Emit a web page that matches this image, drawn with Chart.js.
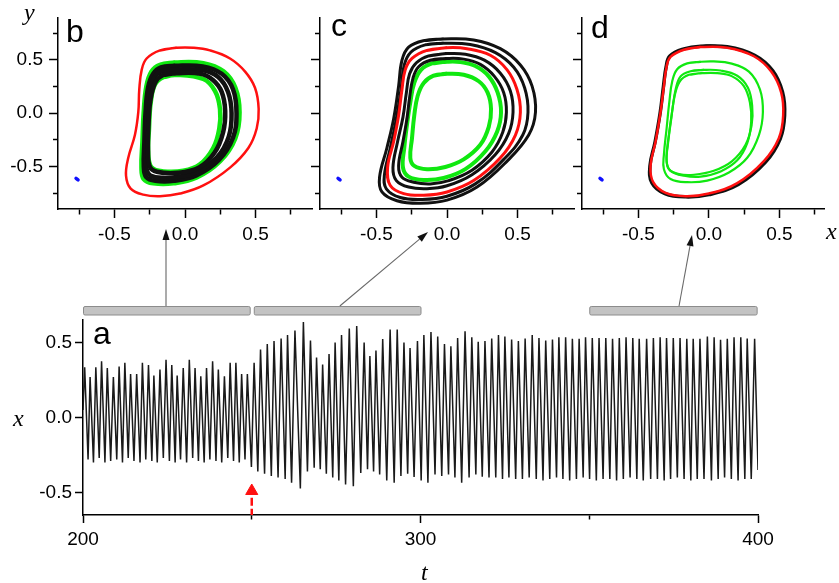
<!DOCTYPE html>
<html>
<head>
<meta charset="utf-8">
<script src="https://cdn.jsdelivr.net/npm/chart.js@4"></script>
<style>
  body { margin: 0; background: #fff; width: 839px; height: 583px; overflow: hidden; position: relative; }
  canvas { position: absolute; }
  .lab { position: absolute; line-height: 1; color: #000; white-space: nowrap; }
  .letter { font: 32px "Liberation Sans", Arial, sans-serif; }
  .var { font: italic 24px "Liberation Serif", "Times New Roman", serif; }
</style>
</head>
<body>
<canvas id="chartA" width="839" height="363" style="left:0;top:220px"></canvas>
<canvas id="chartB" width="316" height="250" style="left:0;top:0"></canvas>
<canvas id="chartC" width="298" height="250" style="left:280px;top:0"></canvas>
<canvas id="chartD" width="297" height="250" style="left:542px;top:0"></canvas>

<div class="lab letter" style="left:66px;top:13px">b</div>
<div class="lab letter" style="left:331px;top:7px">c</div>
<div class="lab letter" style="left:591px;top:9px">d</div>
<div class="lab letter" style="left:93px;top:315px">a</div>
<div class="lab var" style="left:24px;top:-1px">y</div>
<div class="lab var" style="left:826px;top:218px">x</div>
<div class="lab var" style="left:13px;top:405px">x</div>
<div class="lab var" style="left:421px;top:559px">t</div>

<script>
// --- panel a : time series x(t), peaks and troughs ---
const tPeak = [200.5, 202.1, 203.8, 205.5, 207.2, 209.0, 210.7, 212.4, 214.1, 215.9, 217.6, 219.4, 221.0, 222.8, 224.6, 226.3, 227.9, 229.7, 231.5, 233.2,
  234.9, 236.6, 238.4, 240.1, 241.9, 243.6, 245.3, 247.0, 248.7, 250.7,
  252.6, 254.6, 256.6, 258.7, 260.6, 262.8, 265.3, 267.4, 269.2, 271.0, 272.9, 274.7, 276.6, 278.9, 281.1, 283.3, 285.0, 286.8, 288.8, 291.0,
  293.1, 295.1, 296.9, 299.1, 301.0,
  303.1, 305.1, 307.1, 309.0, 311.0, 313.2, 315.2, 317.1, 319.1, 321.1, 323.1, 325.0, 327.0, 329.0, 331.0, 333.1, 335.1, 337.1, 339.1, 341.0,
  343.0, 345.0, 347.0, 348.9, 350.9, 352.9, 354.9, 356.9, 358.9, 360.9, 362.9, 364.8, 367.0, 369.0, 371.0, 372.9, 374.9, 376.9, 378.9, 380.8,
  382.8, 385.0, 387.0, 388.9, 390.9, 392.9, 394.9, 396.8, 399.0];
const xPeak = [0.335, 0.27, 0.335, 0.375, 0.33, 0.27, 0.34, 0.365, 0.29, 0.29, 0.365, 0.35, 0.28, 0.32, 0.385, 0.35, 0.28, 0.33, 0.385, 0.33,
  0.275, 0.33, 0.375, 0.32, 0.275, 0.365, 0.365, 0.29, 0.29, 0.365,
  0.453, 0.49, 0.51, 0.527, 0.55, 0.58, 0.636, 0.513, 0.40, 0.353, 0.424, 0.50, 0.55, 0.593, 0.61, 0.50, 0.41, 0.447, 0.524, 0.587,
  0.587, 0.50, 0.464, 0.51, 0.55,
  0.57, 0.54, 0.49, 0.475, 0.53, 0.575, 0.535, 0.505, 0.51, 0.527, 0.55, 0.54, 0.52, 0.51, 0.527, 0.55, 0.53, 0.513, 0.52, 0.535,
  0.535, 0.525, 0.525, 0.535, 0.53, 0.53, 0.53, 0.525, 0.53, 0.535, 0.53, 0.525, 0.525, 0.53, 0.535, 0.53, 0.53, 0.53, 0.525, 0.525,
  0.525, 0.54, 0.535, 0.518, 0.525, 0.535, 0.535, 0.527, 0.525];
const tTrough = [201.5, 203.1, 204.8, 206.5, 208.2, 210.0, 211.7, 213.4, 215.1, 216.9, 218.6, 220.4, 222.0, 223.8, 225.6, 227.3, 228.9, 230.7, 232.5, 234.2,
  235.9, 237.6, 239.4, 241.1, 242.9, 244.6, 246.3, 248.0, 249.9, 251.8,
  253.8, 255.8, 257.8, 259.9, 261.8, 264.4, 266.5, 268.5, 270.3, 272.1, 274.0, 275.8, 277.8, 280.1, 282.3, 284.3, 286.1, 287.9, 290.0, 292.2,
  294.2, 296.2, 298.1, 300.2,
  302.2, 304.3, 306.3, 308.3, 310.2, 312.2, 314.4, 316.4, 318.3, 320.3, 322.3, 324.3, 326.2, 328.2, 330.2, 332.2, 334.3, 336.3, 338.3, 340.3,
  342.2, 344.2, 346.2, 348.2, 350.1, 352.1, 354.1, 356.1, 358.1, 360.1, 362.1, 364.1, 366.0, 368.2, 370.2, 372.2, 374.1, 376.1, 378.1, 380.1,
  382.0, 384.0, 386.2, 388.2, 390.1, 392.1, 394.1, 396.1, 398.0, 400.0];
const xTrough = [-0.28, -0.30, -0.27, -0.30, -0.29, -0.28, -0.30, -0.27, -0.29, -0.30, -0.28, -0.29, -0.30, -0.27, -0.29, -0.30, -0.28, -0.30, -0.27, -0.29,
  -0.30, -0.28, -0.29, -0.30, -0.27, -0.29, -0.30, -0.28, -0.33, -0.36,
  -0.375, -0.39, -0.40, -0.41, -0.435, -0.473, -0.36, -0.335, -0.345, -0.375, -0.40, -0.42, -0.447, -0.458, -0.37, -0.345, -0.36, -0.38, -0.42, -0.435,
  -0.39, -0.375, -0.397, -0.42,
  -0.435, -0.38, -0.39, -0.38, -0.40, -0.435, -0.40, -0.38, -0.395, -0.40, -0.40, -0.41, -0.40, -0.41, -0.41, -0.40, -0.41, -0.42, -0.41, -0.40,
  -0.41, -0.42, -0.41, -0.40, -0.41, -0.42, -0.41, -0.41, -0.42, -0.41, -0.40, -0.41, -0.42, -0.41, -0.41, -0.42, -0.41, -0.40, -0.41, -0.42,
  -0.41, -0.41, -0.42, -0.41, -0.40, -0.41, -0.42, -0.41, -0.41, -0.35];
const xStart = 0.05;
const switchTime = 250;
const windows = [[200, 249.4], [250.6, 300], [350, 399.6]];   // gray bars above panel a
const timeTicks = ['200', '300', '400'];
const phaseTicks = ['-0.5', '0.0', '0.5'];

// --- panels b, c, d : phase portraits (x, y) ---
const fixedPoint = [[-0.772, -0.612], [-0.758, -0.626]];

const bRed = [[-0.059, 0.615], [-0.177, 0.59], [-0.272, 0.514], [-0.307, 0.407], [-0.324, 0.223], [-0.331, 0.009], [-0.355, -0.205], [-0.402, -0.419],
  [-0.418, -0.587], [-0.385, -0.709], [-0.296, -0.765], [-0.177, -0.78], [-0.035, -0.755], [0.13, -0.679], [0.319, -0.511], [0.449, -0.327],
  [0.508, -0.144], [0.522, 0.04], [0.496, 0.239], [0.426, 0.391], [0.319, 0.514], [0.177, 0.59], [0.059, 0.615]];
const bGreen1 = [[-0.071, 0.474], [-0.177, 0.453], [-0.236, 0.391], [-0.272, 0.254], [-0.291, 0.009], [-0.30, -0.266], [-0.307, -0.511], [-0.291, -0.618],
  [-0.225, -0.657], [-0.083, -0.657], [0.083, -0.602], [0.248, -0.45], [0.355, -0.235], [0.385, 0.009], [0.355, 0.239], [0.272, 0.391], [0.13, 0.468]];
const bGreen2 = [[-0.059, 0.361], [-0.154, 0.339], [-0.213, 0.269], [-0.243, 0.10], [-0.255, -0.144], [-0.26, -0.388], [-0.236, -0.511], [-0.154, -0.547],
  [-0.012, -0.541], [0.106, -0.48], [0.20, -0.327], [0.243, -0.144], [0.248, 0.04], [0.213, 0.208], [0.13, 0.321]];
const bBlack1 = [[-0.07, 0.445], [-0.17, 0.43], [-0.225, 0.37], [-0.262, 0.24], [-0.28, 0.0], [-0.288, -0.27], [-0.292, -0.50], [-0.275, -0.60],
  [-0.21, -0.635], [-0.08, -0.635], [0.08, -0.585], [0.24, -0.44], [0.34, -0.23], [0.365, 0.0], [0.34, 0.225], [0.26, 0.37], [0.125, 0.44]];
const bBlack2 = [[-0.065, 0.41], [-0.165, 0.395], [-0.22, 0.33], [-0.255, 0.18], [-0.268, -0.05], [-0.275, -0.3], [-0.275, -0.49], [-0.255, -0.575],
  [-0.19, -0.605], [-0.06, -0.6], [0.09, -0.55], [0.23, -0.41], [0.31, -0.22], [0.33, 0.0], [0.305, 0.2], [0.235, 0.34], [0.12, 0.405]];
const bBlack3 = [[-0.06, 0.375], [-0.155, 0.36], [-0.21, 0.29], [-0.245, 0.12], [-0.258, -0.1], [-0.262, -0.35], [-0.25, -0.5], [-0.2, -0.55],
  [-0.05, -0.56], [0.1, -0.51], [0.21, -0.37], [0.27, -0.18], [0.285, 0.02], [0.26, 0.2], [0.2, 0.31], [0.11, 0.37]];

const cRed = [[0, 0.615], [-0.142, 0.59], [-0.248, 0.514], [-0.296, 0.407], [-0.319, 0.223], [-0.343, -0.021], [-0.378, -0.266], [-0.421, -0.511],
  [-0.402, -0.679], [-0.307, -0.755], [-0.165, -0.771], [0, -0.74], [0.189, -0.633], [0.378, -0.419], [0.485, -0.205], [0.52, 0.009],
  [0.496, 0.223], [0.426, 0.407], [0.307, 0.544], [0.142, 0.606]];
const cBlack1 = [[-0.024, 0.697], [-0.165, 0.682], [-0.272, 0.621], [-0.319, 0.498], [-0.343, 0.254], [-0.378, -0.052], [-0.426, -0.327], [-0.478, -0.602],
  [-0.461, -0.74], [-0.355, -0.823], [-0.189, -0.847], [0, -0.817], [0.213, -0.694], [0.426, -0.45], [0.579, -0.205], [0.627, 0.009],
  [0.603, 0.254], [0.52, 0.453], [0.378, 0.606], [0.189, 0.688]];
const cBlack2 = [[-0.024, 0.657], [-0.154, 0.642], [-0.255, 0.575], [-0.303, 0.453], [-0.326, 0.223], [-0.359, -0.052], [-0.402, -0.327], [-0.444, -0.587],
  [-0.43, -0.71], [-0.331, -0.792], [-0.177, -0.81], [0, -0.78], [0.201, -0.664], [0.402, -0.434], [0.537, -0.205], [0.574, 0.009],
  [0.55, 0.239], [0.473, 0.431], [0.343, 0.569], [0.165, 0.645]];
const cBlack3 = [[0, 0.56], [-0.13, 0.538], [-0.217, 0.474], [-0.265, 0.37], [-0.288, 0.193], [-0.312, -0.037], [-0.35, -0.266], [-0.383, -0.511],
  [-0.359, -0.633], [-0.272, -0.694], [-0.142, -0.709], [0, -0.682], [0.177, -0.578], [0.343, -0.388], [0.437, -0.19], [0.468, 0.009],
  [0.449, 0.208], [0.378, 0.376], [0.265, 0.498], [0.13, 0.554]];
const cBlack4 = [[0, 0.514], [-0.118, 0.498], [-0.201, 0.437], [-0.241, 0.33], [-0.265, 0.147], [-0.284, -0.052], [-0.312, -0.266], [-0.343, -0.495],
  [-0.319, -0.602], [-0.236, -0.648], [-0.118, -0.664], [0.012, -0.633], [0.177, -0.535], [0.319, -0.364], [0.395, -0.18], [0.421, 0.009],
  [0.402, 0.193], [0.336, 0.346], [0.236, 0.459], [0.118, 0.508]];
const cGreen1 = [[0, 0.483], [-0.106, 0.468], [-0.184, 0.407], [-0.232, 0.284], [-0.26, 0.101], [-0.284, -0.113], [-0.303, -0.327], [-0.312, -0.511],
  [-0.272, -0.596], [-0.165, -0.627], [-0.024, -0.609], [0.13, -0.526], [0.272, -0.358], [0.355, -0.174], [0.383, 0.009], [0.359, 0.193],
  [0.296, 0.346], [0.201, 0.443], [0.095, 0.48]];
const cGreen2 = [[0, 0.37], [-0.095, 0.352], [-0.165, 0.284], [-0.208, 0.162], [-0.232, -0.021], [-0.248, -0.235], [-0.26, -0.419], [-0.232, -0.495],
  [-0.142, -0.526], [-0.012, -0.505], [0.118, -0.434], [0.236, -0.297], [0.296, -0.128], [0.312, 0.04], [0.288, 0.193], [0.225, 0.30], [0.118, 0.361]];

const dRed = [[-0.059, 0.621], [-0.177, 0.596], [-0.272, 0.529], [-0.30, 0.437], [-0.319, 0.254], [-0.343, 0.009], [-0.378, -0.266], [-0.414, -0.495],
  [-0.395, -0.648], [-0.307, -0.749], [-0.165, -0.78], [0, -0.755], [0.201, -0.657], [0.39, -0.45], [0.496, -0.235], [0.527, -0.021],
  [0.513, 0.193], [0.442, 0.391], [0.319, 0.535], [0.13, 0.615]];
const dBlack = [[-0.059, 0.63], [0.13, 0.624], [0.324, 0.544], [0.452, 0.40], [0.522, 0.199], [0.537, -0.021], [0.506, -0.24], [0.40, -0.462],
  [0.208, -0.67], [0, -0.765], [-0.165, -0.786], [-0.312, -0.755], [-0.404, -0.654], [-0.418, -0.495], [-0.381, -0.266], [-0.345, 0.009],
  [-0.322, 0.254], [-0.303, 0.437], [-0.277, 0.538], [-0.177, 0.605]];
const dGreen1 = [[-0.059, 0.483], [-0.154, 0.468], [-0.225, 0.413], [-0.26, 0.30], [-0.281, 0.101], [-0.30, -0.144], [-0.319, -0.388], [-0.319, -0.526],
  [-0.272, -0.618], [-0.154, -0.648], [-0.012, -0.633], [0.142, -0.557], [0.272, -0.419], [0.355, -0.205], [0.383, 0.009], [0.362, 0.223],
  [0.284, 0.391], [0.154, 0.468], [0.035, 0.486]];
const dGreen2 = [[-0.035, 0.407], [-0.13, 0.394], [-0.201, 0.346], [-0.236, 0.223], [-0.258, 0.04], [-0.284, -0.205], [-0.30, -0.419], [-0.284, -0.526],
  [-0.213, -0.572], [-0.106, -0.578], [0.035, -0.541], [0.165, -0.45], [0.26, -0.297], [0.303, -0.113], [0.307, 0.07], [0.277, 0.239],
  [0.201, 0.352], [0.083, 0.401]];
const dGreen3 = [[-0.047, 0.376], [-0.142, 0.361], [-0.206, 0.30], [-0.243, 0.162], [-0.267, -0.052], [-0.291, -0.297], [-0.30, -0.45], [-0.272, -0.541],
  [-0.177, -0.587], [-0.059, -0.596], [0.083, -0.547], [0.201, -0.443], [0.272, -0.281], [0.30, -0.083], [0.291, 0.101], [0.248, 0.254],
  [0.165, 0.346], [0.059, 0.376]];

const RED = '#ff1010', GREEN = '#10e810', BLACK = '#111111', BLUE = '#1010ff';

Chart.defaults.font.family = '"Liberation Sans", Arial, sans-serif';
Chart.defaults.font.size = 19;
Chart.defaults.color = '#000';

// closed curve: repeat the first two points so the spline joins smoothly
function loop(pts, color, width) {
  const closed = pts.concat(pts.slice(0, 2));
  return {
    data: closed.map(p => ({ x: p[0], y: p[1] })),
    showLine: true, borderColor: color, borderWidth: width,
    pointRadius: 0, tension: 0.4, fill: false
  };
}
function dot() {
  return {
    data: fixedPoint.map(p => ({ x: p[0], y: p[1] })),
    showLine: true, borderColor: BLUE, borderWidth: 3.5, pointRadius: 0, borderCapStyle: 'round'
  };
}

const isPhaseMajor = v => phaseTicks.includes(v.toFixed(1));

function phaseChart(id, datasets, xMax, yWidth, yLabels, padRight) {
  return new Chart(document.getElementById(id), {
    type: 'scatter',
    data: { datasets },
    options: {
      responsive: false, animation: false, events: [],
      layout: { padding: { top: 13, right: padRight, left: 0, bottom: 0 } },
      plugins: { legend: { display: false }, tooltip: { enabled: false } },
      scales: {
        x: {
          type: 'linear', min: -0.9, max: xMax,
          afterFit(s) { s.height = 41; },
          border: { display: true, color: '#000', width: 1.5 },
          grid: {
            drawOnChartArea: false, tickLength: 9, tickColor: '#000', tickWidth: 1.5,
            tickBorderDash: c => (c.tick && isPhaseMajor(c.tick.value)) ? [] : [5, 30]
          },
          ticks: {
            stepSize: 0.25, includeBounds: false, autoSkip: false, maxRotation: 0, padding: 5,
            callback: v => isPhaseMajor(v) ? v.toFixed(1) : ''
          }
        },
        y: {
          type: 'linear', min: -0.9, max: 0.9,
          afterFit(s) { s.width = yWidth; },
          border: { display: true, color: '#000', width: 1.5 },
          grid: {
            drawOnChartArea: false, tickLength: 9, tickColor: '#000', tickWidth: 1.5,
            tickBorderDash: c => (c.tick && isPhaseMajor(c.tick.value)) ? [] : [5, 30],
            tickBorderDashOffset: 31
          },
          ticks: {
            stepSize: 0.25, includeBounds: false, autoSkip: false, padding: 6,
            callback: v => (yLabels && isPhaseMajor(v)) ? v.toFixed(1) : ''
          }
        }
      }
    }
  });
}

phaseChart('chartB', [
  loop(bRed, RED, 2.5),
  dot(),
  loop(bBlack3, BLACK, 4.5),
  loop(bBlack2, BLACK, 4.5),
  loop(bBlack1, BLACK, 4.5),
  loop(bGreen2, GREEN, 4.5),
  loop(bGreen1, GREEN, 5)
], 0.9, 58, true, 4);

phaseChart('chartC', [
  loop(cRed, RED, 3),
  dot(),
  loop(cBlack4, BLACK, 3),
  loop(cBlack3, BLACK, 3),
  loop(cBlack2, BLACK, 3),
  loop(cBlack1, BLACK, 3),
  loop(cGreen2, GREEN, 4),
  loop(cGreen1, GREEN, 4)
], 0.9, 40, false, 4);

phaseChart('chartD', [
  loop(dRed, RED, 2.5),
  loop(dBlack, BLACK, 3.5),
  dot(),
  loop(dGreen3, GREEN, 2.2),
  loop(dGreen2, GREEN, 2.2),
  loop(dGreen1, GREEN, 2.2)
], 0.82, 40, false, 14.5);

// --- panel a ---
const series = [{ x: 200, y: xStart }];
for (let i = 0; i < tPeak.length; i++) {
  series.push({ x: tPeak[i], y: xPeak[i] });
  series.push({ x: tTrough[i], y: xTrough[i] });
}

const A_TOP = 220;   // page offset of canvas a
// arrows: start time on the bar -> tip position on the page (below the phase panels)
const arrows = [
  { t: 224.6, tip: [166, 229] },
  { t: 276.1, tip: [428, 232] },
  { t: 376.6, tip: [692, 235] }
];

const annotate = {
  id: 'annotate',
  afterDraw(chart) {
    const { ctx, chartArea, scales: { x } } = chart;
    const top = chartArea.top - 14, h = 8.5;
    ctx.save();
    windows.forEach(([a, b]) => {
      const x0 = x.getPixelForValue(a), x1 = x.getPixelForValue(b);
      ctx.beginPath();
      ctx.roundRect(x0 + 0.5, top + 0.5, x1 - x0, h, 1.5);
      ctx.fillStyle = '#c3c3c3';
      ctx.fill();
      ctx.strokeStyle = '#8c8c8c';
      ctx.lineWidth = 1;
      ctx.stroke();
    });
    arrows.forEach(a => {
      const sx = x.getPixelForValue(a.t), sy = top;
      const tx = a.tip[0], ty = a.tip[1] - A_TOP;
      const ang = Math.atan2(ty - sy, tx - sx);
      const len = 11, hw = 3.5;
      const bx = tx - len * Math.cos(ang), by = ty - len * Math.sin(ang);
      ctx.beginPath();
      ctx.moveTo(sx, sy);
      ctx.lineTo(bx, by);
      ctx.strokeStyle = '#6a6a6a';
      ctx.lineWidth = 1.1;
      ctx.stroke();
      ctx.beginPath();
      ctx.moveTo(tx, ty);
      ctx.lineTo(bx + hw * Math.sin(ang), by - hw * Math.cos(ang));
      ctx.lineTo(bx - hw * Math.sin(ang), by + hw * Math.cos(ang));
      ctx.closePath();
      ctx.fillStyle = '#111';
      ctx.fill();
    });
    ctx.restore();
  }
};

new Chart(document.getElementById('chartA'), {
  type: 'scatter',
  data: {
    datasets: [
      {
        data: [{ x: switchTime, y: -0.49 }],
        pointStyle: 'triangle', pointRadius: 7, backgroundColor: RED, borderColor: RED, borderWidth: 1
      },
      {
        data: [{ x: switchTime, y: -0.535 }, { x: switchTime, y: -0.65 }],
        showLine: true, borderColor: RED, borderWidth: 2.5, borderDash: [8, 3], pointRadius: 0
      },
      {
        data: series,
        showLine: true, borderColor: '#1a1a1a', borderWidth: 1.5, pointRadius: 0, tension: 0
      }
    ]
  },
  options: {
    responsive: false, animation: false, events: [],
    layout: { padding: { top: 100, right: 81, left: 0, bottom: 0 } },
    plugins: { legend: { display: false }, tooltip: { enabled: false } },
    scales: {
      x: {
        type: 'linear', min: 200, max: 400,
        afterFit(s) { s.height = 68; },
        border: { display: true, color: '#000', width: 1.5 },
        grid: {
          drawOnChartArea: false, tickLength: 8, tickColor: '#000', tickWidth: 1.5,
          tickBorderDash: c => (c.tick && timeTicks.includes(String(c.tick.value))) ? [] : [4, 30]
        },
        ticks: {
          stepSize: 50, autoSkip: false, maxRotation: 0, padding: 5,
          callback: v => timeTicks.includes(String(v)) ? String(v) : ''
        }
      },
      y: {
        type: 'linear', min: -0.65, max: 0.65,
        afterFit(s) { s.width = 83; },
        border: { display: true, color: '#000', width: 1.5 },
        grid: { drawOnChartArea: false, tickLength: 8, tickColor: '#000', tickWidth: 1.5 },
        ticks: {
          stepSize: 0.5, includeBounds: false, autoSkip: false, padding: 3,
          callback: v => v.toFixed(1)
        }
      }
    }
  },
  plugins: [annotate]
});
</script>
</body>
</html>
